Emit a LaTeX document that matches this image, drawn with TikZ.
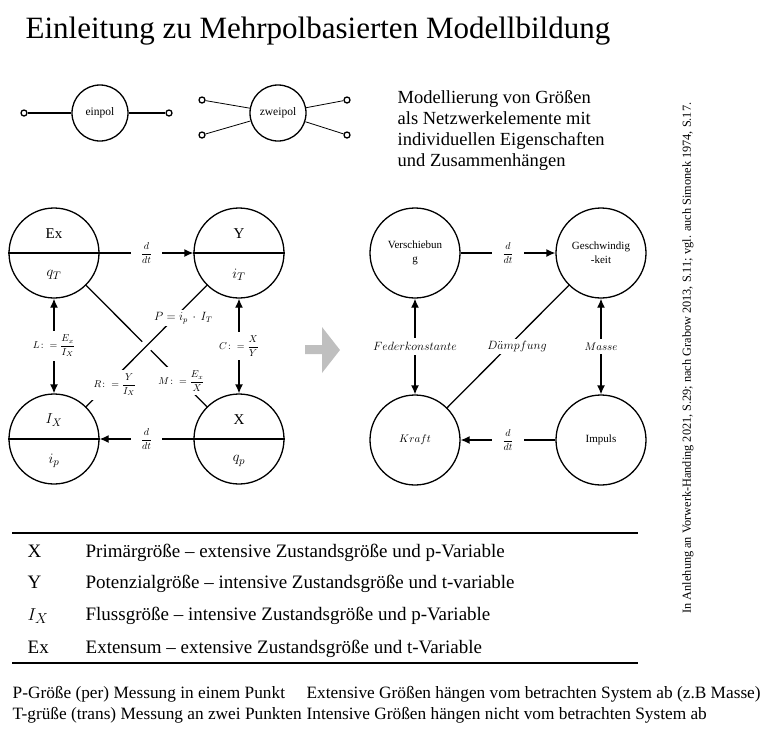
\documentclass[tikz,border=0pt]{standalone}
\usepackage{amsmath}
\usepackage{fontspec}
\setmainfont{Liberation Serif}
\usetikzlibrary{arrows.meta,calc,positioning}

\begin{document}
\begin{tikzpicture}[x=1pt,y=-1pt,>={Latex[length=9pt,width=8pt]},line width=1.3pt]
\tikzstyle{pol}=[draw, circle, minimum size=90pt, inner sep=0pt, align=center, font=\fontsize{11}{14}\selectfont]
\tikzstyle{klein}=[draw, circle, minimum size=56pt, inner sep=0pt, font=\fontsize{11.5}{13}\selectfont]
\tikzstyle{klemme}=[draw, circle, minimum size=6pt, inner sep=0pt, fill=white]
\tikzstyle{lbl}=[fill=white, inner sep=4pt, font=\fontsize{10}{12}\selectfont]
\tikzstyle{gross}=[font=\fontsize{15}{18}\selectfont]
\tikzstyle{zeile}=[anchor=base west, inner sep=0pt, font=\fontsize{19}{22}\selectfont]
\tikzstyle{fuss}=[anchor=base west, inner sep=0pt, font=\fontsize{17.3}{20}\selectfont]
\useasboundingbox (0,0) rectangle (769,732);

\node[anchor=base west, inner sep=0pt, font=\fontsize{31}{36}\selectfont] (titel) at (25,38) {Einleitung zu Mehrpolbasierten Modellbildung};

% einpol / zweipol
\node[klein] (ein) at (100,113) {einpol};
\node[klemme] (e1) at (24,113) {};
\node[klemme] (e2) at (169,113) {};
\node[klein] (zwei) at (278,113) {zweipol};
\node[klemme] (z1) at (202,100) {};
\node[klemme] (z2) at (202,135) {};
\node[klemme] (z3) at (347,100) {};
\node[klemme] (z4) at (347,135) {};
\path (e1) edge (ein) (ein) edge (e2);
\path[line width=.8pt] (z1) edge (zwei) (z2) edge (zwei) (zwei) edge (z3) (zwei) edge (z4);
\node[anchor=north west, align=left, inner sep=0pt, font=\fontsize{18.5}{21}\selectfont] (text) at (397,90)
  {Modellierung von Größen\\als Netzwerkelemente mit\\individuellen Eigenschaften\\und Zusammenhängen};

% linkes Schema
\node[pol] (ex) at (54,253) {};
\node[pol] (y)  at (239,253) {};
\node[pol] (ix) at (54,439) {};
\node[pol] (x)  at (239,439) {};
\foreach \n in {ex,y,ix,x}
  \draw (\n.west) -- (\n.east);
\node[gross,yshift=19pt] at (ex) {Ex};
\node[gross,yshift=-22pt] at (ex) {$q_T$};
\node[gross,yshift=19pt] at (y) {Y};
\node[gross,yshift=-22pt] at (y) {$i_T$};
\node[gross,yshift=19pt] at (ix) {$I_X$};
\node[gross,yshift=-22pt] at (ix) {$i_p$};
\node[gross,yshift=19pt] at (x) {X};
\node[gross,yshift=-22pt] at (x) {$q_p$};

\draw[->] (ex) -- node[lbl,inner xsep=10pt]{$\dfrac{d}{dt}$} (y);
\draw[->] (x) -- node[lbl,inner xsep=10pt]{$\dfrac{d}{dt}$} (ix);
\draw[<->] (ex) -- node[lbl]{$L\colon = \dfrac{E_x}{I_X}$} (ix);
\draw[<->] (y) -- node[lbl]{$C\colon = \dfrac{X}{Y}$} (x);
\draw (ex) -- node[lbl,pos=.79]{$M\colon = \dfrac{E_x}{X}$} (x);
\draw[preaction={draw=white,line width=12pt,shorten <=76pt,shorten >=76pt}]
  (y) -- node[lbl,pos=.27,xshift=9pt,inner sep=2pt,font=\fontsize{11.5}{13}\selectfont]{$P = i_p\,\cdot\,I_T$}
         node[lbl,pos=.82,xshift=7pt]{$R\colon = \dfrac{Y}{I_X}$} (ix);

% Pfeil
\fill[gray!50] (305,345) -- (322,345) -- (322,327) -- (340,350) -- (322,373) -- (322,354) -- (305,354) -- cycle;

% rechtes Schema
\node[pol] (vs) at (415,253) {Verschiebun\\g};
\node[pol] (gs) at (601,253) {Geschwindig\\-keit};
\node[pol] (kr) at (415,440) {$Kraft$};
\node[pol] (im) at (601,440) {Impuls};
\draw[->] (vs) -- node[lbl,inner xsep=10pt]{$\dfrac{d}{dt}$} (gs);
\draw[->] (im) -- node[lbl,inner xsep=10pt]{$\dfrac{d}{dt}$} (kr);
\draw[<->] (vs) -- node[lbl,inner xsep=2pt,font=\fontsize{13}{15}\selectfont]{$Federkonstante$} (kr);
\draw[<->] (gs) -- node[lbl,font=\fontsize{11}{13}\selectfont]{$Masse$} (im);
\draw (gs) -- node[lbl,xshift=9pt,inner sep=2pt,font=\fontsize{11.5}{13}\selectfont]{$D\ddot{a}mpfung$} (kr);

\node[rotate=90, font=\fontsize{12.3}{14}\selectfont] (quelle) at (688,358)
  {In Anlehung an Vorwerk-Handing 2021, S.29; nach Grabow 2013, S.11; vgl. auch Simonek 1974, S.17.};

% Tabelle
\coordinate (o1) at (12,533);
\coordinate (o2) at (638,533);
\coordinate (u1) at (12,663);
\coordinate (u2) at (638,663);
\draw[line width=1.6pt] (o1) -- (o2) (u1) -- (u2);
\node[zeile] (s1) at (27,557) {X};
\node[zeile] (t1) at (85,557) {Primärgröße – extensive Zustandsgröße und p-Variable};
\node[zeile] (s2) at (27,588) {Y};
\node[zeile] (t2) at (85,588) {Potenzialgröße – intensive Zustandsgröße und t-variable};
\node[zeile] (s3) at (27,620) {$I_X$};
\node[zeile] (t3) at (85,620) {Flussgröße – intensive Zustandsgröße und p-Variable};
\node[zeile] (s4) at (27,653) {Ex};
\node[zeile] (t4) at (85,653) {Extensum – extensive Zustandsgröße und t-Variable};

\node[fuss] (f1) at (12,698) {P-Größe (per) Messung in einem Punkt};
\node[fuss] (f2) at (306,698) {Extensive Größen hängen vom betrachten System ab (z.B Masse)};
\node[fuss] (f3) at (12,719) {T-grüße (trans) Messung an zwei Punkten};
\node[fuss] (f4) at (306,719) {Intensive Größen hängen nicht vom betrachten System ab};
\end{tikzpicture}
\end{document}
